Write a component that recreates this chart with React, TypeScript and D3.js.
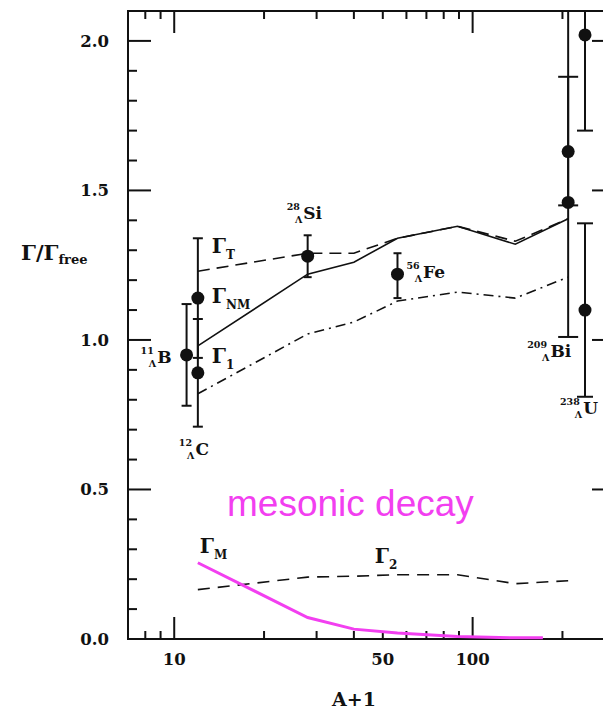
import React, { useEffect, useRef } from 'react';
import * as d3 from 'd3';

// model curves (x = A, y = Gamma / Gamma_free)
const curveA = [12, 28, 40, 56, 89, 139, 209];
const gammaT = [1.23, 1.29, 1.29, 1.34, 1.38, 1.33, 1.405];
const gammaNM = [0.98, 1.22, 1.26, 1.34, 1.38, 1.32, 1.405];
const gamma1 = [0.82, 1.02, 1.06, 1.13, 1.16, 1.14, 1.21];
const gamma2 = [0.165, 0.207, 0.21, 0.215, 0.215, 0.185, 0.195];

const mesonA = [12, 28, 40, 56, 89, 139, 172];
const gammaM = [0.255, 0.072, 0.033, 0.02, 0.008, 0.004, 0.004];

// measurements
const measNucleus = ['B', 'C', 'C', 'Si', 'Fe', 'Bi', 'Bi', 'U', 'U'];
const measA = [11, 12, 12, 28, 56, 209, 209, 238, 238];
const measValue = [0.95, 1.14, 0.89, 1.28, 1.22, 1.63, 1.46, 2.02, 1.1];
const measLow = [0.78, 0.94, 0.71, 1.21, 1.14, 1.45, 1.01, 1.7, 0.81];
const measHigh = [1.12, 1.34, 1.07, 1.35, 1.29, 2.3, 1.88, 2.4, 1.39];

// hypernucleus labels
const labelMass = ['11', '12', '28', '56', '209', '238'];
const labelElement = ['B', 'C', 'Si', 'Fe', 'Bi', 'U'];

const xTickLabels = [10, 50, 100];
const yTickLabels = ['0.0', '0.5', '1.0', '1.5', '2.0'];

const App: React.FC = () => {
  const svgRef = useRef<SVGSVGElement>(null);

  useEffect(() => {
    const svg = d3.select(svgRef.current);
    svg.selectAll('*').remove();

    const width = 603;
    const height = 709;
    const frame = { left: 128, right: 615, top: 11, bottom: 639 };
    const font = 'DejaVu Serif';

    const x = d3.scaleLog().domain([7, 300]).range([frame.left, frame.right]);
    const y = d3.scaleLinear().domain([0, 2.1]).range([frame.bottom, frame.top]);

    svg.append('rect').attr('width', width).attr('height', height).attr('fill', 'white');

    // frame
    svg.append('rect')
      .attr('x', frame.left).attr('y', frame.top)
      .attr('width', frame.right - frame.left).attr('height', frame.bottom - frame.top)
      .attr('fill', 'none').attr('stroke', '#111').attr('stroke-width', 2);

    const ticks = svg.append('g').attr('stroke', '#111').attr('stroke-width', 2);

    // x ticks (top and bottom, pointing inward)
    const xMinor = [8, 9, 20, 30, 40, 50, 60, 70, 80, 90, 200];
    const xMajor = [10, 100];
    [...xMinor.map(v => [v, 8]), ...xMajor.map(v => [v, 22])].forEach(([v, len]) => {
      ticks.append('line').attr('x1', x(v)).attr('x2', x(v))
        .attr('y1', frame.bottom).attr('y2', frame.bottom - len);
      ticks.append('line').attr('x1', x(v)).attr('x2', x(v))
        .attr('y1', frame.top).attr('y2', frame.top + len);
    });

    // y ticks (left and right)
    d3.range(1, 21).forEach(i => {
      const v = i / 10;
      const len = i % 5 === 0 ? 23 : 9;
      ticks.append('line').attr('x1', frame.left).attr('x2', frame.left + len)
        .attr('y1', y(v)).attr('y2', y(v));
      ticks.append('line').attr('x1', frame.right).attr('x2', frame.right - len)
        .attr('y1', y(v)).attr('y2', y(v));
    });

    // tick labels
    svg.append('g').selectAll('text').data(yTickLabels).join('text')
      .attr('x', 109).attr('y', d => y(+d) + 6)
      .attr('text-anchor', 'end').attr('font-family', font).attr('font-weight', 'bold')
      .attr('font-size', 16.5).attr('fill', '#111')
      .text(d => d);

    svg.append('g').selectAll('text').data(xTickLabels).join('text')
      .attr('x', d => x(d)).attr('y', 665)
      .attr('text-anchor', 'middle').attr('font-family', font).attr('font-weight', 'bold')
      .attr('font-size', 16.5).attr('fill', '#111')
      .text(d => d);

    // axis titles
    svg.append('text').attr('x', 354).attr('y', 706)
      .attr('text-anchor', 'middle').attr('font-family', font).attr('font-weight', 'bold')
      .attr('font-size', 19).attr('fill', '#111').text('A+1');

    const yTitle = svg.append('text').attr('x', 21).attr('y', 260)
      .attr('font-family', font).attr('font-weight', 'bold').attr('font-size', 21).attr('fill', '#111');
    yTitle.append('tspan').text('Γ/Γ');
    yTitle.append('tspan').attr('font-size', 13).attr('dy', 4).text('free');

    const line = d3.line<[number, number]>().x(d => x(d[0])).y(d => y(d[1]));
    const zip = (xs: number[], ys: number[]) => xs.map((v, i) => [v, ys[i]] as [number, number]);

    const curves = [
      { values: gammaT, dash: '12,7', color: '#111', w: 1.6 },
      { values: gammaNM, dash: null, color: '#111', w: 1.6 },
      { values: gamma1, dash: '10,5,2,5', color: '#111', w: 1.6 },
      { values: gamma2, dash: '12,8', color: '#111', w: 1.6 },
    ];
    curves.forEach(c => {
      svg.append('path')
        .attr('d', line(zip(curveA, c.values)))
        .attr('fill', 'none').attr('stroke', c.color).attr('stroke-width', c.w)
        .attr('stroke-dasharray', c.dash);
    });

    svg.append('path')
      .attr('d', line(zip(mesonA, gammaM)))
      .attr('fill', 'none').attr('stroke', '#f23ff0').attr('stroke-width', 3);

    // error bars and points
    const capHalf: Record<string, number> = { B: 5, C: 5, Si: 4, Fe: 4, Bi: 10, U: 8 };
    const bars = svg.append('g').attr('stroke', '#111').attr('stroke-width', 2);
    measA.forEach((a, i) => {
      const cx = x(a);
      const top = Math.min(measHigh[i], 2.1);
      bars.append('line').attr('x1', cx).attr('x2', cx)
        .attr('y1', y(top)).attr('y2', y(measLow[i]));
      const h = capHalf[measNucleus[i]];
      [measLow[i], measHigh[i]].filter(v => v < 2.1).forEach(v => {
        bars.append('line').attr('x1', cx - h).attr('x2', cx + h)
          .attr('y1', y(v)).attr('y2', y(v));
      });
    });
    svg.append('g').selectAll('circle').data(measA).join('circle')
      .attr('cx', d => x(d)).attr('cy', (d, i) => y(measValue[i]))
      .attr('r', 6.5).attr('fill', '#111');

    // hypernucleus labels, placed relative to their data
    const labelAnchor = [
      { a: 11, v: 0.95, dx: -46, dy: 8 },
      { a: 12, v: 0.71, dx: -19, dy: 28 },
      { a: 28, v: 1.35, dx: -21, dy: -16 },
      { a: 56, v: 1.22, dx: 9, dy: 4 },
      { a: 209, v: 1.01, dx: -41, dy: 20 },
      { a: 238, v: 0.81, dx: -25, dy: 17 },
    ];
    labelMass.forEach((m, i) => {
      const p = labelAnchor[i];
      const t = svg.append('text')
        .attr('x', x(p.a) + p.dx).attr('y', y(p.v) + p.dy)
        .attr('font-family', font).attr('font-weight', 'bold').attr('fill', '#111');
      t.append('tspan').attr('font-size', 9.5).attr('dy', -9).text(m);
      t.append('tspan').attr('font-size', 9.5).attr('dy', 13).attr('dx', -5).text('Λ');
      t.append('tspan').attr('font-size', 17).attr('dy', -4).attr('dx', 1).text(labelElement[i]);
    });

    // curve labels
    const gammaLabels = [
      { sub: 'T', a: 12, v: 1.291, dx: 14 },
      { sub: 'NM', a: 12, v: 1.124, dx: 14 },
      { sub: '1', a: 12, v: 0.923, dx: 14 },
      { sub: 'M', a: 12, v: 0.288, dx: 2 },
      { sub: '2', a: 47, v: 0.254, dx: 0 },
    ];
    gammaLabels.forEach(g => {
      const t = svg.append('text')
        .attr('x', x(g.a) + g.dx).attr('y', y(g.v))
        .attr('font-family', font).attr('font-weight', 'bold').attr('font-size', 20).attr('fill', '#111');
      t.append('tspan').text('Γ');
      t.append('tspan').attr('font-size', 12).attr('dy', 6).text(g.sub);
    });

    svg.append('text').attr('x', 227).attr('y', 516)
      .attr('font-family', 'Liberation Sans, Arial, sans-serif').attr('font-size', 37)
      .attr('fill', '#f23ff0').text('mesonic decay');
  }, []);

  return (
    <svg
      ref={svgRef}
      width={603}
      height={709}
      style={{ position: 'absolute', left: 0, top: 0, display: 'block' }}
    />
  );
};

export default App;
